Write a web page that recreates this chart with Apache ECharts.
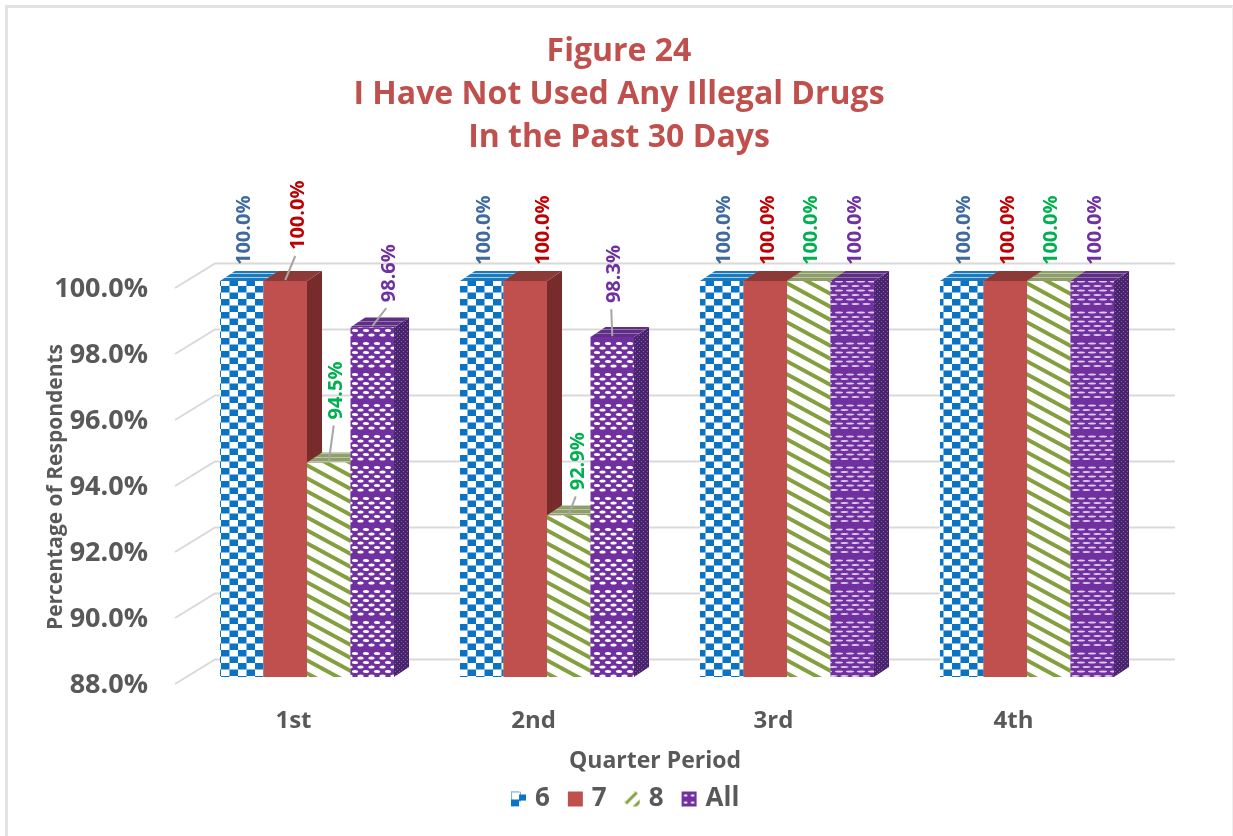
<!DOCTYPE html>
<html>
<head>
<meta charset="utf-8">
<style>
html,body{margin:0;padding:0;background:#fff}
#frame{position:absolute;left:5px;top:5px;width:1228px;height:831px;box-sizing:border-box;border-left:3px solid #e2e2e2;border-top:3px solid #e2e2e2;border-right:1px solid #efefef}
#c{position:absolute;left:0;top:0;width:1233px;height:836px;filter:blur(0.45px)}
</style>
<script src="https://cdn.jsdelivr.net/npm/echarts@6/dist/echarts.min.js"></script>
</head>
<body>
<div id="frame"></div>
<div id="c"></div>
<script>
const categories = ['1st','2nd','3rd','4th'];
const seriesNames = ['6','7','8','All'];
const values6 = [100.0,100.0,100.0,100.0];
const values7 = [100.0,100.0,100.0,100.0];
const values8 = [94.5,92.9,100.0,100.0];
const valuesAll = [98.6,98.3,100.0,100.0];
const gridTicks = [88,90,92,94,96,98,100];

const allValues = [values6,values7,values8,valuesAll];
const labelColors = ['#41699c','#c00000','#00b050','#7030a0'];
const labelWeights = ['bold','bold','bold','bold'];
// labels Excel had moved away from their bars: [series, category, dx, dy, has leader]
const movedLabels = [[1,0,11,-31,1],[2,0,6,-43,1],[3,0,15,-25,1],[1,1,16,-16,0],[2,1,8,-25,1],[3,1,0,-34,1]];

const FONT = '"Open Sans", sans-serif';
const GREY = '#595959';

function pattern(w,h,draw){
  const c=document.createElement('canvas');c.width=w;c.height=h;
  const x=c.getContext('2d');draw(x,w,h);
  return {image:c,repeat:'repeat'};
}
function check(fg,bg){return pattern(17,13,(x,w,h)=>{
  x.fillStyle=bg;x.fillRect(0,0,w,h);x.fillStyle=fg;
  x.fillRect(0,0,8.5,6.5);x.fillRect(8.5,6.5,8.5,6.5);
});}
function stripes(fg,bg){return pattern(24,13,(x,w,h)=>{
  x.fillStyle=bg;x.fillRect(0,0,w,h);x.strokeStyle=fg;x.lineWidth=4;
  for(let i=-24;i<=24;i+=24){x.beginPath();x.moveTo(i-24,-13);x.lineTo(i+48,26);x.stroke();}
});}
function dots(bg,dot,rx,ry){return pattern(11,31,(x,w,h)=>{
  x.fillStyle=bg;x.fillRect(0,0,w,h);x.fillStyle=dot;
  [[2.5,0],[7,5.5],[11.5,0],[16,5.5],[20.5,0],[25,5.5]].forEach(r=>{
    [r[1]-11,r[1],r[1]+11].forEach(cx=>{
      x.beginPath();x.ellipse(cx+3,r[0],rx,ry,0,0,Math.PI*2);x.fill();
    });
  });
});}

const faces = [
  {front:check('#0a73c4','#ffffff'), top:pattern(8,4,(x)=>{x.fillStyle='#1b79bd';x.fillRect(0,0,8,4);x.fillStyle='#a9cfe6';x.fillRect(0,1,8,1);}), side:'#0a5a99'},
  {front:'#c0504d', top:'#8c3a38', side:'#772c2b'},
  {front:stripes('#84a03e','#ffffff'), top:pattern(6,4,(x)=>{x.fillStyle='#8f9f6c';x.fillRect(0,0,6,4);x.fillStyle='#b9c3a3';x.fillRect(0,1,6,1);}), side:'#5f7430'},
  {front:dots('#7030a0','#ffffff',3.1,1.6), dense:dots('#7030a0','#dccbea',4,1.0), top:pattern(6,4,(x)=>{x.fillStyle='#5f2f88';x.fillRect(0,0,6,4);x.fillStyle='#8f72a8';x.fillRect(0,1,6,1);}), side:pattern(4,4,(x)=>{x.fillStyle='#4a2370';x.fillRect(0,0,4,4);x.fillStyle='#7d6396';x.fillRect(1,1,1,1);x.fillRect(3,3,1,1);})}
];
const legendIcons = [
  pattern(15,15,(x)=>{x.fillStyle='#fff';x.fillRect(0,0,15,15);x.strokeStyle='#7db4de';x.strokeRect(.5,.5,9,9);x.fillStyle='#0a73c4';x.fillRect(0,8,8,7);x.fillRect(8,3,7,6);}),
  '#c0504d',
  pattern(16,16,(x)=>{x.fillStyle='#fff';x.fillRect(0,0,16,16);x.strokeStyle='#84a03e';x.lineWidth=3;x.beginPath();x.moveTo(1,12);x.lineTo(12,1);x.moveTo(9,16);x.lineTo(16,9);x.stroke();}),
  pattern(15,15,(x)=>{x.fillStyle='#7030a0';x.fillRect(0,0,15,15);x.fillStyle='#fff';[[4,4],[11,4],[4,11],[11,11]].forEach(p=>x.fillRect(p[0]-1.5,p[1]-1,3,2));})
];

function renderBar(s){
  return function(params,api){
    const cat=api.value(0), val=api.value(1);
    const p=api.coord([cat,val]), base=api.coord([cat,88]);
    const band=api.size([1,0])[0];
    const w=band*0.1813, dx=w*0.345, dy=10;
    const x0=p[0]-2*w+s*w, x1=x0+w, y=p[1], yb=base[1];
    const f=faces[s];
    const front=(s===3&&cat>=2)?f.dense:f.front;
    const children=[
      {type:'polygon',shape:{points:[[x1,y],[x1+dx,y-dy],[x1+dx,yb-dy],[x1,yb]]},style:{fill:f.side}},
      {type:'polygon',shape:{points:[[x0,y],[x1,y],[x1+dx,y-dy],[x0+dx,y-dy]]},style:{fill:f.top}},
      {type:'rect',shape:{x:x0,y:y,width:w,height:yb-y},style:{fill:front}}
    ];
    const moved=movedLabels.find(m=>m[0]===s&&m[1]===params.dataIndex);
    const cx=x0+w/2;
    let lx=cx+1, ly=y-16;
    if(moved){
      lx=cx+moved[2]; ly=y+moved[3];
      if(moved[4]) children.push({type:'line',shape:{x1:cx,y1:y-1,x2:lx-1,y2:ly+6},style:{stroke:'#a6a6a6',lineWidth:2}});
    }
    children.push({type:'text',x:lx+2,y:ly,rotation:Math.PI/2,z2:20,
      style:{text:val.toFixed(1)+'%',fill:labelColors[s],font:labelWeights[s]+' 20px '+FONT,align:'left',verticalAlign:'middle'}});
    return {type:'group',children};
  };
}

function renderGrid(params,api){
  const y=api.coord([0,api.value(0)])[1];
  const cs=params.coordSys;
  return {type:'polyline',shape:{points:[[cs.x-12,y+7],[cs.x+28,y-17.5],[cs.x+cs.width+28,y-17.5]]},
    style:{stroke:'#d9d9d9',lineWidth:2,fill:null}};
}

const chart=echarts.init(document.getElementById('c'),null,{renderer:'canvas',width:1233,height:836});
chart.setOption({
  backgroundColor:'transparent',
  animation:false,
  title:{text:'Figure 24\nI Have Not Used Any Illegal Drugs\nIn the Past 30 Days',left:614,top:25,textAlign:'center',
    textStyle:{fontFamily:FONT,fontWeight:'bold',fontSize:32,lineHeight:43,color:'#c0504d'}},
  grid:{left:187,top:281,width:960,height:396},
  legend:{left:506,top:781,itemWidth:15,itemHeight:15,itemGap:18,icon:'rect',
    textStyle:{fontFamily:FONT,fontWeight:'bold',fontSize:26,color:GREY,padding:[0,0,0,4]},
    data:seriesNames.map((n,i)=>({name:n,itemStyle:{color:legendIcons[i]}}))},
  xAxis:{type:'category',data:categories,name:'Quarter Period',nameLocation:'middle',nameGap:73,nameMoveOverlap:false,
    nameTextStyle:{fontFamily:FONT,fontWeight:'bold',fontSize:23,color:GREY,padding:[0,24,0,0]},
    axisLine:{show:false},axisTick:{show:false},splitLine:{show:false},
    axisLabel:{fontFamily:FONT,fontWeight:'bold',fontSize:24,color:GREY,margin:32,padding:[0,27,0,0]}},
  yAxis:{type:'value',min:88,max:100,interval:2,name:'Percentage of Respondents',nameLocation:'middle',nameGap:120,nameMoveOverlap:false,
    nameTextStyle:{fontFamily:FONT,fontWeight:'bold',fontSize:21,color:GREY,padding:[0,16,0,0]},
    axisLine:{show:false},axisTick:{show:false},splitLine:{show:false},
    axisLabel:{fontFamily:FONT,fontWeight:'bold',fontSize:27,color:GREY,margin:39,verticalAlign:'top',lineHeight:16,
      formatter:v=>v.toFixed(1)+'%'}},
  series:[
    {type:'custom',name:'grid',silent:true,z:1,encode:{y:0},data:gridTicks.map(v=>[v]),renderItem:renderGrid,coordinateSystem:'cartesian2d'}
  ].concat(seriesNames.map((n,s)=>({
    type:'custom',name:n,z:2+s,coordinateSystem:'cartesian2d',silent:true,
    itemStyle:{color:s===1?'#c0504d':faces[s].front},
    encode:{x:0,y:1},
    data:categories.map((c,i)=>[i,allValues[s][i]]),
    renderItem:renderBar(s)
  })))
});
</script>
</body>
</html>
